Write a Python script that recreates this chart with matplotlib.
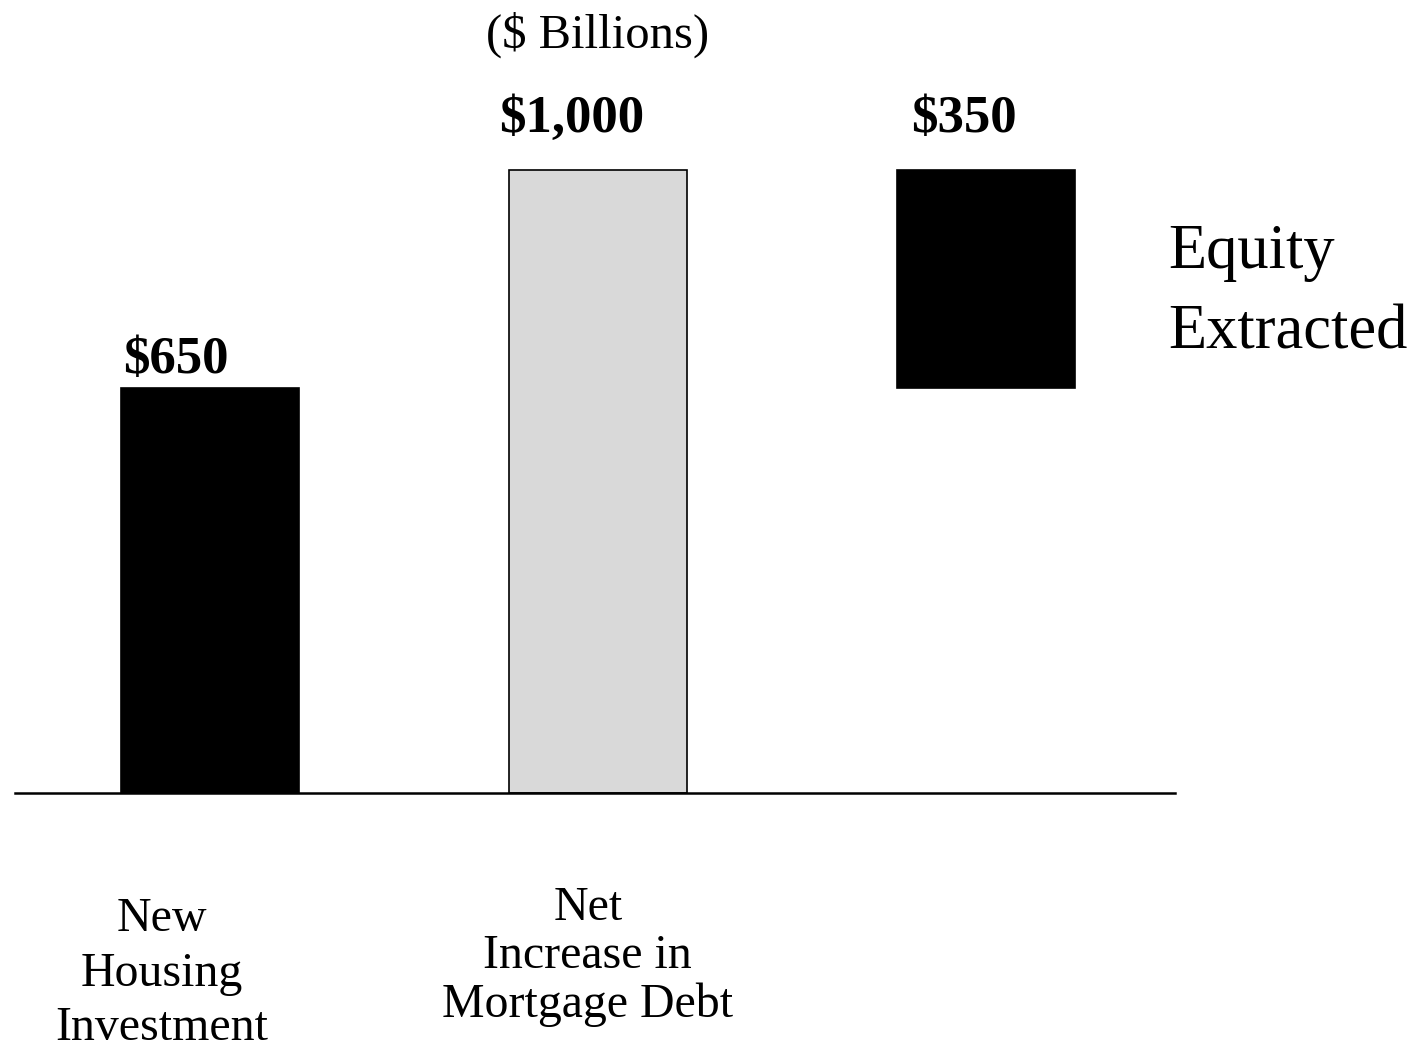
import numpy as np
import matplotlib
matplotlib.use("Agg")
import matplotlib.pyplot as plt

# data ($ billions)
categories = ["New\nHousing\nInvestment", "Net\nIncrease in\nMortgage Debt", ""]
values = [650, 1000, 350]
bottoms = [0, 0, 650]
value_labels = ["$650", "$1,000", "$350"]

plt.rcParams['font.family'] = ['Liberation Serif', 'DejaVu Serif']

fig = plt.figure(figsize=(14.17, 10.5), dpi=100)
ax = fig.add_axes([0, 0, 1, 1])
ax.set_xlim(-0.541, 3.111)
ax.set_ylim(-412.5, 1272.9)
ax.axis("off")

x = np.arange(len(values))
colors = ["black", "#d9d9d9", "black"]
ax.bar(x, values, bottom=bottoms, width=0.46, color=colors,
       edgecolor="black", linewidth=1.2, zorder=2)

# baseline
ax.axhline(0, xmin=0.0106, xmax=0.829, color="black", lw=1.8, zorder=3)

# value labels above bars
gaps = [24, 61, 61]
xoff = [-0.088, -0.067, -0.057]
for i in range(len(values)):
    ax.text(x[i] + xoff[i], bottoms[i] + values[i] + gaps[i], value_labels[i],
            ha="center", va="baseline", fontsize=38, fontweight="bold")

# category labels (anchored at last-line baseline)
cat_x = [-0.124, -0.026]
cat_y = [-396, -359]
cat_ls = [1.3, 1.12]
for i in range(2):
    ax.text(x[i] + cat_x[i], cat_y[i], categories[i], ha="center",
            va="baseline", fontsize=34.5, linespacing=cat_ls[i])

ax.text(1.0, 1197, "($ Billions)", ha="center", va="baseline", fontsize=35)
ax.text(2.469, 714, "Equity\nExtracted", ha="left", va="baseline",
        fontsize=45, linespacing=1.5)

fig.savefig("out.png", dpi=100)
